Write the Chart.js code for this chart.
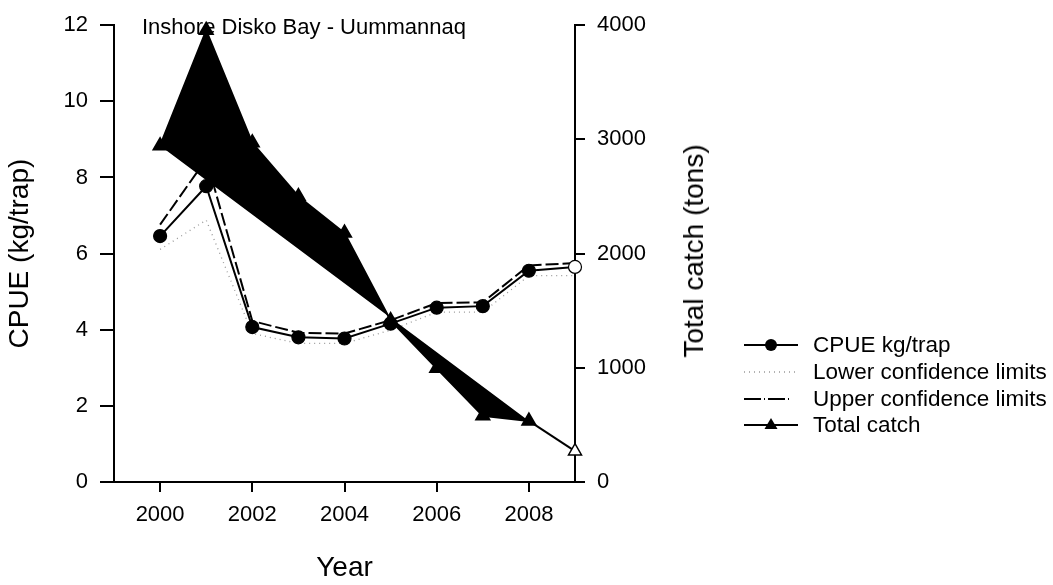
<!DOCTYPE html>
<html>
<head>
<meta charset="utf-8">
<script src="https://cdn.jsdelivr.net/npm/chart.js@4.4.1/dist/chart.umd.min.js"></script>
<style>
    body { margin: 0; background: #fff; font-family: 'Liberation Sans', Arial, sans-serif; color: #000; }
    #wrap { position: relative; width: 1053px; height: 585px; }
    #plotTitle { position: absolute; left: 142px; top: 13px; font-size: 22px; line-height: 28px; white-space: nowrap; }
    #rightTitle { position: absolute; left: 694px; top: 251px; font-size: 28px; line-height: 34px; white-space: nowrap;
        transform: translate(-50%, -50%) rotate(-90deg); }
    .lg { position: absolute; left: 744px; height: 27px; display: flex; align-items: center; font-size: 22.5px; white-space: nowrap; }
    .lg svg { width: 56px; height: 20px; margin-right: 13px; }
</style>
</head>
<body>
<div id="wrap">
    <canvas id="myChart" width="1053" height="585"></canvas>
    <div id="plotTitle">Inshore Disko Bay - Uummannaq</div>
    <div id="rightTitle">Total catch (tons)</div>
    <div class="lg" style="top:331px"><svg viewBox="0 0 56 20"><line x1="0" y1="10" x2="54" y2="10" stroke="#000" stroke-width="2"/><circle cx="27" cy="10" r="6" fill="#000"/></svg>CPUE kg/trap</div>
    <div class="lg" style="top:358px"><svg viewBox="0 0 56 20"><line x1="0" y1="10" x2="54" y2="10" stroke="#999" stroke-width="1.3" stroke-dasharray="1 4"/></svg>Lower confidence limits</div>
    <div class="lg" style="top:385px"><svg viewBox="0 0 56 20"><line x1="0" y1="10" x2="48" y2="10" stroke="#000" stroke-width="2" stroke-dasharray="17 3 1 3"/></svg>Upper confidence limits</div>
    <div class="lg" style="top:411px"><svg viewBox="0 0 56 20"><line x1="0" y1="10" x2="54" y2="10" stroke="#000" stroke-width="2"/><polygon points="27,3 33.5,14 20.5,14" fill="#000"/></svg>Total catch</div>
</div>
<script>
// values
var years = [2000, 2001, 2002, 2003, 2004, 2005, 2006, 2007, 2008, 2009];
var cpue = [6.46, 7.77, 4.07, 3.80, 3.77, 4.16, 4.58, 4.62, 5.55, 5.65];
var lowerCI = [6.11, 6.88, 3.90, 3.64, 3.64, 3.99, 4.46, 4.46, 5.42, 5.42];
var upperCI = [6.76, 8.48, 4.23, 3.92, 3.90, 4.25, 4.70, 4.72, 5.69, 5.75];
var totalCatch = [2945, 3955, 2970, 2500, 2180, 1415, 995, 580, 535, 270];

var xTicks = [2000, 2002, 2004, 2006, 2008];
var cpueTicks = [0, 2, 4, 6, 8, 10, 12];
var catchTicks = [0, 1000, 2000, 3000, 4000];

var lastFilled = 8; // catch shape in the figure is closed from 2000 to 2008; 2009 is a separate open point

var pts = (ys, from, to) => years.slice(from, to).map((x, i) => ({x: x, y: ys[from + i]}));
var openLast = (n, c) => years.slice(0, n).map((x, i) => i === n - 1 ? '#fff' : c);

var black = '#000';
var tickFont = {family: "'Liberation Sans', Arial", size: 22};
var titleFont = {family: "'Liberation Sans', Arial", size: 28};

var main = () => {
    var ctx = document.getElementById('myChart');

    new Chart(ctx, {
        type: 'line',
        data: {
            datasets: [{
                label: 'Total catch',
                yAxisID: 'y1',
                data: pts(totalCatch, 0, lastFilled + 1),
                borderColor: black,
                borderWidth: 2,
                backgroundColor: black,
                fill: 1,
                pointStyle: 'triangle',
                pointRadius: 7.5,
                pointBackgroundColor: black,
                pointBorderColor: black,
                clip: false
            }, {
                // straight closing edge of the filled catch shape
                label: 'chord',
                yAxisID: 'y1',
                data: [{x: years[0], y: totalCatch[0]}, {x: years[lastFilled], y: totalCatch[lastFilled]}],
                borderWidth: 0,
                pointRadius: 0,
                fill: false
            }, {
                label: 'Total catch tail',
                yAxisID: 'y1',
                data: pts(totalCatch, lastFilled, years.length),
                borderColor: black,
                borderWidth: 2,
                fill: false,
                pointStyle: 'triangle',
                pointRadius: [0, 7.5],
                pointBackgroundColor: '#fff',
                pointBorderColor: black,
                pointBorderWidth: 1.5,
                clip: false
            }, {
                label: 'CPUE kg/trap',
                yAxisID: 'y',
                data: pts(cpue, 0, years.length),
                borderColor: black,
                borderWidth: 2,
                fill: false,
                pointRadius: 6.5,
                pointBackgroundColor: openLast(years.length, black),
                pointBorderColor: black,
                pointBorderWidth: 1.2,
                clip: false
            }, {
                label: 'Upper confidence limits',
                yAxisID: 'y',
                data: pts(upperCI, 0, years.length),
                borderColor: black,
                borderWidth: 2,
                borderDash: [13, 4],
                fill: false,
                pointRadius: 0,
                clip: false
            }, {
                label: 'Lower confidence limits',
                yAxisID: 'y',
                data: pts(lowerCI, 0, years.length),
                borderColor: '#999',
                borderWidth: 1.3,
                borderDash: [1, 4],
                fill: false,
                pointRadius: 0,
                clip: false
            }]
        },
        options: {
            responsive: false,
            animation: false,
            events: [],
            layout: {
                padding: {left: 0, right: 378, top: 20, bottom: 0}
            },
            plugins: {
                legend: {display: false},
                tooltip: {enabled: false},
                title: {display: false}
            },
            scales: {
                x: {
                    type: 'linear',
                    min: 1999,
                    max: 2009,
                    afterBuildTicks: s => { s.ticks = xTicks.map(v => ({value: v})); },
                    afterFit: s => { s.height = 103; },
                    ticks: {font: tickFont, color: black, padding: 10, maxRotation: 0, autoSkip: false, callback: v => String(v)},
                    grid: {drawOnChartArea: false, color: black, lineWidth: 2, tickLength: 10},
                    border: {color: black, width: 2},
                    title: {display: true, text: 'Year', font: titleFont, color: black, padding: {top: 0, bottom: 0}}
                },
                y: {
                    position: 'left',
                    min: 0,
                    max: 12,
                    afterBuildTicks: s => { s.ticks = cpueTicks.map(v => ({value: v})); },
                    afterFit: s => { s.width = 114; },
                    ticks: {font: tickFont, color: black, padding: 12},
                    grid: {drawOnChartArea: false, color: black, lineWidth: 2, tickLength: 14},
                    border: {color: black, width: 2},
                    title: {display: true, text: 'CPUE (kg/trap)', font: titleFont, color: black, padding: {top: 3, bottom: 0}}
                },
                y1: {
                    position: 'right',
                    min: 0,
                    max: 4000,
                    afterBuildTicks: s => { s.ticks = catchTicks.map(v => ({value: v})); },
                    afterFit: s => { s.width = 100; },
                    ticks: {font: tickFont, color: black, padding: 12, callback: v => String(v)},
                    grid: {drawOnChartArea: false, color: black, lineWidth: 2, tickLength: 10},
                    border: {color: black, width: 2}
                }
            }
        }
    });
};

main();
</script>
</body>
</html>
